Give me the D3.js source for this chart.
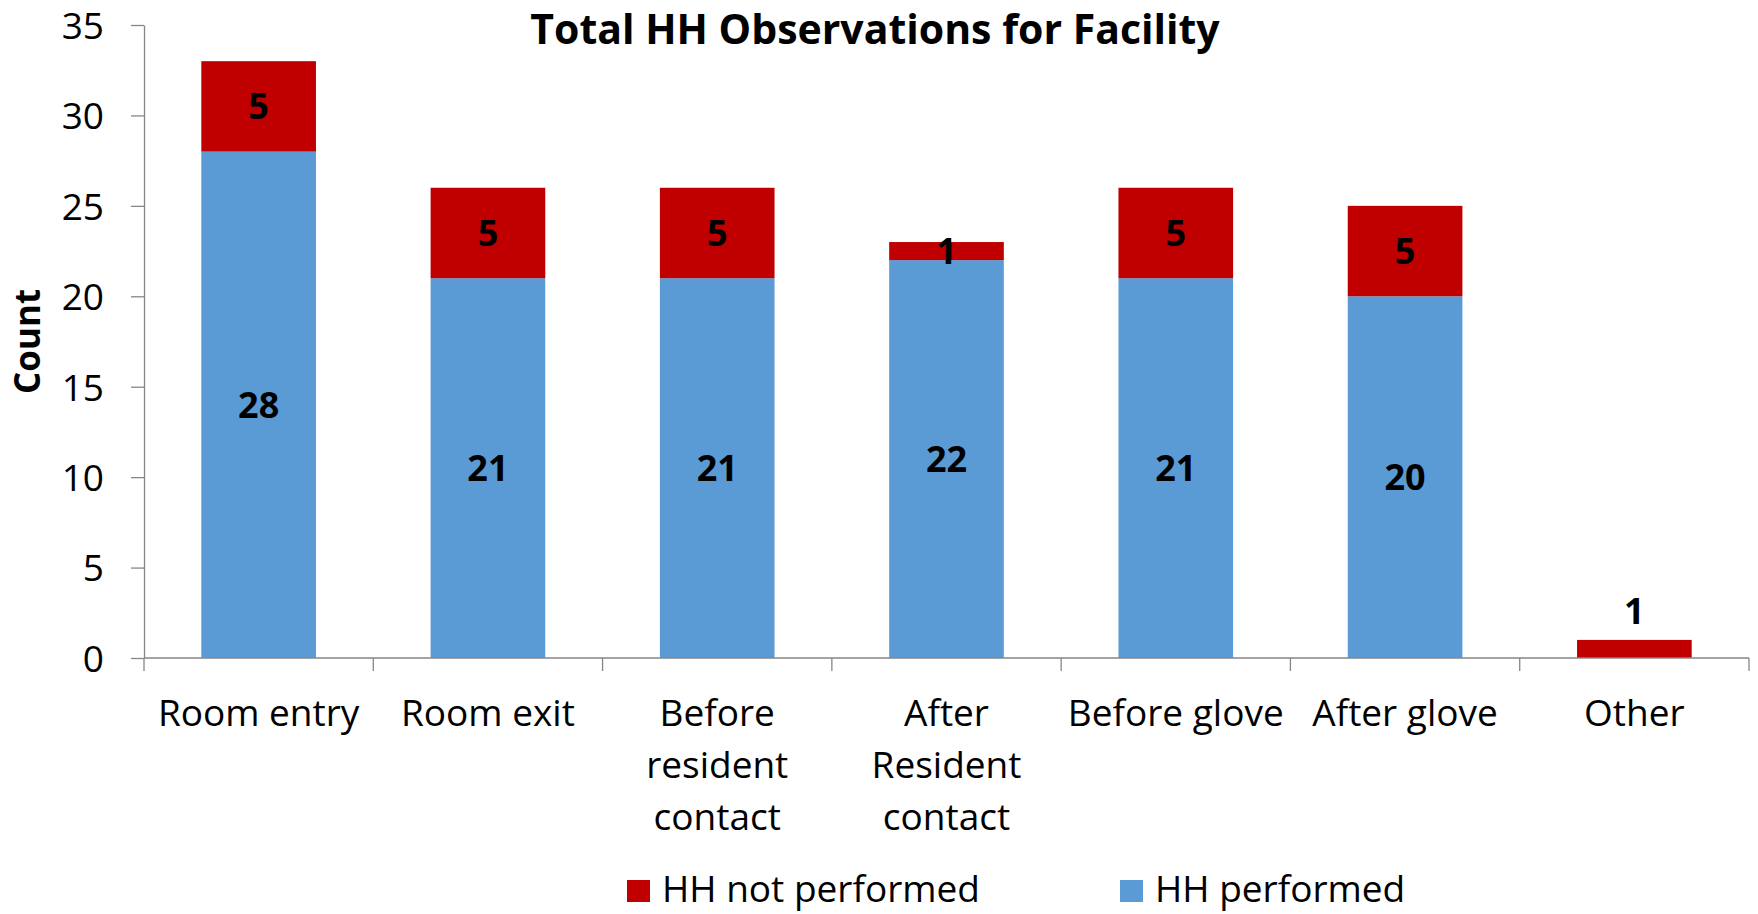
<!DOCTYPE html>
<html lang="en">
<head>
<meta charset="UTF-8">
<title>Total HH Observations for Facility</title>
<style>
    body { margin: 0; background: #fff; }
    svg text { font-family: "Open Sans", "Noto Sans", sans-serif; fill: #000; }
    .axis path, .axis line { stroke: #868686; stroke-width: 1.3px; }
    .axis text { font-size: 37px; }
    .lbl { font-size: 36px; font-weight: bold; text-anchor: middle; }
</style>
</head>
<body>
<svg width="1758" height="914"></svg>
<script src="https://cdn.jsdelivr.net/npm/d3@7"></script>
<script>

var categories = ["Room entry", "Room exit", "Before resident contact", "After Resident contact",
                  "Before glove", "After glove", "Other"];
var performed = [28, 21, 21, 22, 21, 20, 0];
var notPerformed = [5, 5, 5, 1, 5, 5, 1];
var yTicks = [0, 5, 10, 15, 20, 25, 30, 35];

var seriesKeys = ["performed", "notPerformed"];
var seriesNames = {notPerformed: "HH not performed", performed: "HH performed"};
var colors = {performed: "#5B9BD5", notPerformed: "#C00000"};

var rows = categories.map(function(c, i) {
    return {cat: c, performed: performed[i], notPerformed: notPerformed[i]};
});

var svg = d3.select("svg"),
    plotLeft = 144, plotRight = 1749, plotTop = 25, plotBottom = 658;

var x = d3.scaleBand()
    .domain(categories)
    .range([plotLeft, plotRight])
    .paddingInner(0.5)
    .paddingOuter(0.25);

var y = d3.scaleLinear()
    .domain([0, 35])
    .range([plotBottom, plotTop]);

// title
svg.append("text")
    .attr("x", 875)
    .attr("y", 44)
    .attr("text-anchor", "middle")
    .style("font-size", "41px")
    .style("font-weight", "bold")
    .text("Total HH Observations for Facility");

// y axis
var yAxis = svg.append("g")
    .attr("class", "axis")
    .attr("transform", "translate(" + plotLeft + ",0)")
    .call(d3.axisLeft(y).tickValues(yTicks).tickSize(13).tickSizeOuter(0).tickPadding(27));
yAxis.selectAll("text").attr("dy", "0.36em");

svg.append("text")
    .attr("transform", "translate(40," + ((plotTop + plotBottom) / 2) + ") rotate(-90)")
    .attr("text-anchor", "middle")
    .style("font-size", "35px")
    .style("font-weight", "bold")
    .text("Count");

// stacked bars
var stacked = d3.stack().keys(seriesKeys)(rows);

var layer = svg.selectAll(".layer")
    .data(stacked)
    .enter().append("g")
    .attr("class", "layer")
    .attr("fill", function(d) { return colors[d.key]; });

layer.selectAll("rect")
    .data(function(d) { return d; })
    .enter().append("rect")
    .attr("x", function(d) { return x(d.data.cat); })
    .attr("y", function(d) { return y(d[1]); })
    .attr("width", x.bandwidth())
    .attr("height", function(d) { return y(d[0]) - y(d[1]); });

// x axis (ticks on band edges like excel)
var xAxis = svg.append("g").attr("class", "axis");
xAxis.append("line")
    .attr("x1", plotLeft).attr("x2", plotRight)
    .attr("y1", plotBottom).attr("y2", plotBottom);
var edges = categories.map(function(c) { return x(c) - x.step() * 0.25; }).concat([plotRight]);
xAxis.selectAll(".edge")
    .data(edges)
    .enter().append("line")
    .attr("class", "edge")
    .attr("x1", function(d) { return d; }).attr("x2", function(d) { return d; })
    .attr("y1", plotBottom).attr("y2", plotBottom + 13);

var catText = svg.append("g").selectAll("text")
    .data(categories)
    .enter().append("text")
    .attr("text-anchor", "middle")
    .attr("x", function(d) { return x(d) + x.bandwidth() / 2; })
    .attr("y", 726)
    .style("font-size", "37px");

// wrap category names to band width
catText.each(function(d) {
    var t = d3.select(this), words = d.split(" "), line = [];
    var cx = x(d) + x.bandwidth() / 2;
    var tspan = t.append("tspan").attr("x", cx).attr("dy", 0);
    words.forEach(function(w) {
        line.push(w);
        tspan.text(line.join(" "));
        if (tspan.node().getComputedTextLength() > x.step() - 4 && line.length > 1) {
            line.pop();
            tspan.text(line.join(" "));
            line = [w];
            tspan = t.append("tspan").attr("x", cx).attr("dy", 52).text(w);
        }
    });
});

// data labels
layer.selectAll(".lbl")
    .data(function(d) { return d.filter(function(s) { return s[1] - s[0] > 0; }); })
    .enter().append("text")
    .attr("class", "lbl")
    .attr("x", function(d) { return x(d.data.cat) + x.bandwidth() / 2; })
    .attr("y", function(d) {
        if (d[0] === 0 && d.data.performed === 0) return y(d[1]) - 29;
        return y((d[0] + d[1]) / 2);
    })
    .attr("dy", "0.36em")
    .style("fill", "#000")
    .text(function(d) { return d[1] - d[0]; });

// legend
var legend = svg.selectAll(".legend")
    .data(["notPerformed", "performed"])
    .enter().append("g")
    .attr("class", "legend")
    .attr("transform", function(d, i) { return "translate(" + (627 + i * 493) + ",880)"; });

legend.append("rect")
    .attr("width", 23).attr("height", 22)
    .attr("fill", function(d) { return colors[d]; });

legend.append("text")
    .attr("x", 35)
    .attr("y", 22)
    .style("font-size", "37px")
    .text(function(d) { return seriesNames[d]; });

</script>
</body>
</html>
